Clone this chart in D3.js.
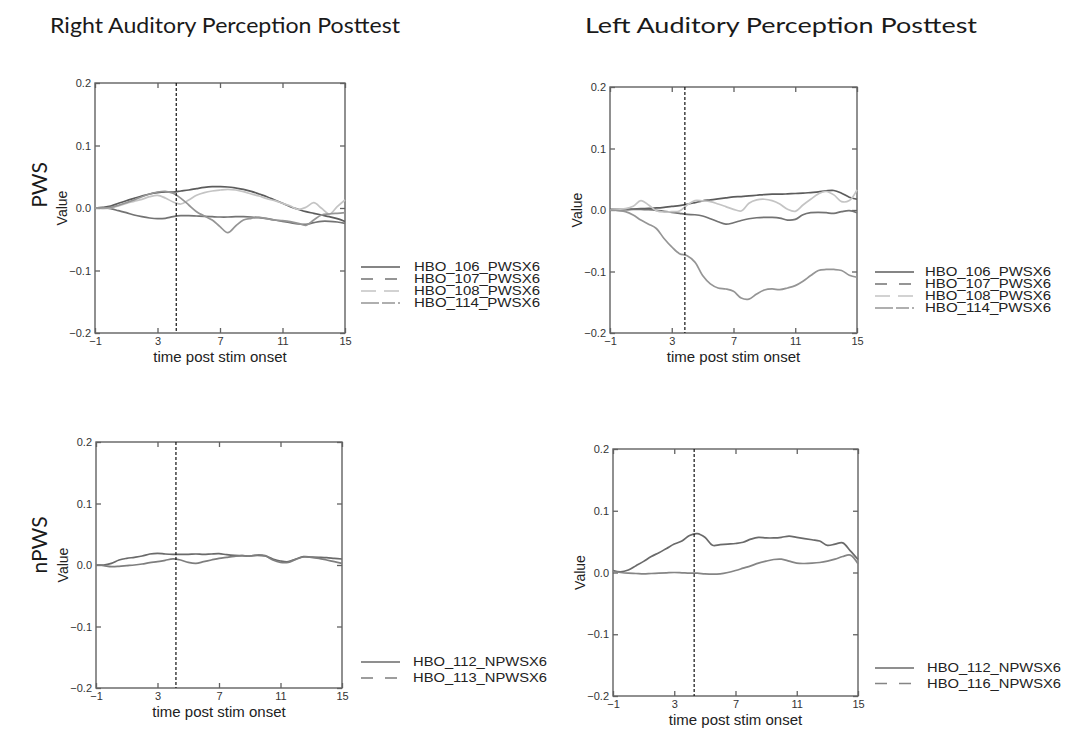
<!DOCTYPE html>
<html>
<head>
<meta charset="utf-8">
<script src="https://cdn.jsdelivr.net/npm/d3@7"></script>
<style>
  body { margin: 0; background: #fff; }
  svg { display: block; }
</style>
</head>
<body>
<svg id="chart" width="1065" height="732"></svg>
<script>
// ---- data ---------------------------------------------------------------
const timePoints = [-1, -0.5, 0, 0.5, 1, 1.5, 2, 2.5, 3, 3.5, 4, 4.5, 5, 5.5, 6, 6.5, 7,
  7.5, 8, 8.5, 9, 9.5, 10, 10.5, 11, 11.5, 12, 12.5, 13, 13.5, 14, 14.5, 15];
const xTickValues = [-1, 3, 7, 11, 15];
const yTickValues = [-0.2, -0.1, 0.0, 0.1, 0.2];
const columnTitles = ["Right Auditory Perception Posttest", "Left Auditory Perception Posttest"];
const rowTitles = ["PWS", "nPWS"];

const pwsSubjects = ["HBO_106_PWSX6", "HBO_107_PWSX6", "HBO_108_PWSX6", "HBO_114_PWSX6"];
const npwsRightSubjects = ["HBO_112_NPWSX6", "HBO_113_NPWSX6"];
const npwsLeftSubjects = ["HBO_112_NPWSX6", "HBO_116_NPWSX6"];

// stimulus marker (dashed vertical line) per panel
const markerTimes = [4.2, 3.85, 4.2, 4.3];

// Right hemisphere, PWS
const rightPws106 = [0, 0.001, 0.003, 0.0075, 0.0117, 0.0155, 0.0192, 0.0224, 0.0245, 0.0256, 0.0256,
  0.0272, 0.0288, 0.031, 0.033, 0.0341, 0.0341, 0.0336, 0.032, 0.0299, 0.0267, 0.0224, 0.0181, 0.0128,
  0.0075, 0.0021, -0.0021, -0.0059, -0.0085, -0.0112, -0.0139, -0.0171, -0.0215];
const rightPws107 = [0, 0, -0.0011, -0.0043, -0.0075, -0.0112, -0.0139, -0.016, -0.0171, -0.0165,
  -0.0139, -0.0123, -0.0123, -0.0128, -0.0133, -0.0139, -0.0144, -0.0144, -0.0139, -0.0139, -0.0144,
  -0.0155, -0.0171, -0.0192, -0.0213, -0.0235, -0.0256, -0.0261, -0.0235, -0.0213, -0.0213, -0.0224, -0.0245];
const rightPws108 = [0, -0.0011, 0, 0.0032, 0.0075, 0.0107, 0.0139, 0.0181, 0.0203, 0.016, 0.0096,
  0.0064, 0.0128, 0.0203, 0.0245, 0.0272, 0.0288, 0.0299, 0.0288, 0.0261, 0.0224, 0.0192, 0.0149,
  0.0117, 0.0075, 0.0032, -0.0021, 0.0011, 0.0085, -0.0005, -0.0096, 0.0021, 0.0128];
const rightPws114 = [0, 0, 0.0011, 0.0043, 0.0085, 0.0128, 0.0181, 0.0224, 0.0256, 0.0267, 0.0235,
  0.0155, 0.0048, -0.0059, -0.0128, -0.0192, -0.0299, -0.0395, -0.0288, -0.0192, -0.0165, -0.0149,
  -0.0171, -0.0192, -0.0203, -0.0219, -0.0245, -0.0277, -0.0192, -0.0112, -0.0096, -0.0085, -0.0075];

// Left hemisphere, PWS
const leftPws106 = [0.0011, 0.0011, 0.0011, 0.0016, 0.0022, 0.0027, 0.0033, 0.0044, 0.006, 0.0071,
  0.0093, 0.012, 0.0148, 0.0164, 0.018, 0.0197, 0.0213, 0.0219, 0.023, 0.024, 0.0251, 0.0257, 0.0257,
  0.0262, 0.0268, 0.0273, 0.0284, 0.0295, 0.0311, 0.0317, 0.0273, 0.0208, 0.0175];
const leftPws107 = [0, 0, 0.0005, 0.0011, 0.0011, 0.0005, -0.0005, -0.0022, -0.0038, -0.0055, -0.0071,
  -0.0077, -0.0098, -0.0142, -0.0191, -0.023, -0.0208, -0.017, -0.0142, -0.0126, -0.012, -0.012,
  -0.0131, -0.0164, -0.0153, -0.0077, -0.0044, -0.0038, -0.0044, -0.0055, -0.0027, -0.0011, -0.0044];
const leftPws108 = [0, 0.0011, 0.0022, 0.006, 0.0153, 0.0082, -0.0011, -0.0033, -0.0027, -0.0016,
  0.0082, 0.0153, 0.0148, 0.0137, 0.0098, 0.0055, 0.0011, -0.0016, 0.0109, 0.0164, 0.0175, 0.0153,
  0.0098, 0.0011, -0.0022, 0.0082, 0.0175, 0.0262, 0.0301, 0.0246, 0.0137, 0.0153, 0.0328];
const leftPws114 = [0, -0.0011, -0.0027, -0.0082, -0.0164, -0.023, -0.0301, -0.0464, -0.0601, -0.071,
  -0.0743, -0.0847, -0.1066, -0.1202, -0.1268, -0.1284, -0.1322, -0.1432, -0.1448, -0.1366, -0.1301,
  -0.1284, -0.1295, -0.1268, -0.123, -0.1158, -0.1066, -0.0984, -0.0967, -0.0967, -0.0984, -0.106, -0.1093];

// Right hemisphere, nPWS
const rightNpws112 = [0, 0, 0.0027, 0.0081, 0.0108, 0.0125, 0.0146, 0.0179, 0.019, 0.0179, 0.0173,
  0.0173, 0.0173, 0.0179, 0.0173, 0.0179, 0.0184, 0.0168, 0.0157, 0.0152, 0.0146, 0.0157, 0.0146,
  0.0098, 0.0065, 0.0054, 0.0098, 0.0136, 0.013, 0.0125, 0.0119, 0.0108, 0.0098];
const rightNpws113 = [0, -0.0011, -0.0027, -0.0022, -0.0011, 0, 0.0016, 0.0038, 0.0054, 0.0076, 0.0098,
  0.0081, 0.0043, 0.0027, 0.0054, 0.0081, 0.0108, 0.0125, 0.0141, 0.0152, 0.0146, 0.0163, 0.0152,
  0.0081, 0.0043, 0.0043, 0.0092, 0.013, 0.0125, 0.0108, 0.0081, 0.0054, 0.0027];

// Left hemisphere, nPWS
const leftNpws112 = [0.003, 0.001, 0.004, 0.011, 0.018, 0.026, 0.032, 0.039, 0.046, 0.051, 0.06,
  0.063, 0.057, 0.044, 0.045, 0.046, 0.047, 0.049, 0.054, 0.057, 0.056, 0.056, 0.057, 0.059, 0.057,
  0.055, 0.053, 0.051, 0.044, 0.046, 0.048, 0.035, 0.021];
const leftNpws116 = [0.0016, 0, -0.0011, -0.0016, -0.0022, -0.0016, -0.0011, -0.0005, 0, -0.0005,
  -0.0011, -0.0011, -0.0022, -0.0027, -0.0022, 0, 0.0032, 0.007, 0.0108, 0.0151, 0.0184, 0.0211,
  0.0216, 0.0184, 0.0151, 0.0146, 0.0151, 0.0162, 0.0184, 0.0216, 0.0259, 0.0281, 0.014];

// ---- styles per subject -------------------------------------------------
const seriesStyle = {
  "HBO_106_PWSX6":  { color: "#5c5c5c", dash: null },
  "HBO_107_PWSX6":  { color: "#737373", dash: "12,12" },
  "HBO_108_PWSX6":  { color: "#c4c4c4", dash: "15,8" },
  "HBO_114_PWSX6":  { color: "#959595", dash: "18,3,13,3" },
  "HBO_112_NPWSX6": { color: "#6a6a6a", dash: null },
  "HBO_113_NPWSX6": { color: "#7e7e7e", dash: "12,12" },
  "HBO_116_NPWSX6": { color: "#858585", dash: "12,12" }
};

// ---- layout of the four panels -----------------------------------------
const panels = [
  { box: [95, 83, 345, 333], names: pwsSubjects,
    values: [rightPws106, rightPws107, rightPws108, rightPws114],
    legend: { x: 361, y: 267, dy: 12, textX: 414 } },
  { box: [610, 87, 857, 333], names: pwsSubjects,
    values: [leftPws106, leftPws107, leftPws108, leftPws114],
    legend: { x: 875, y: 272, dy: 12, textX: 925 } },
  { box: [96, 442, 342, 688], names: npwsRightSubjects,
    values: [rightNpws112, rightNpws113],
    legend: { x: 361, y: 662, dy: 16, textX: 413 } },
  { box: [613, 449, 858, 696], names: npwsLeftSubjects,
    values: [leftNpws112, leftNpws116],
    legend: { x: 875, y: 668, dy: 15.5, textX: 927 } }
];

const svg = d3.select("#chart");
const sans = "'Liberation Sans', Arial, sans-serif";
const frameColor = "#626262";

panels.forEach((p, i) => {
  const [x0, y0, x1, y1] = p.box;
  const x = d3.scaleLinear().domain([-1, 15]).range([x0, x1]);
  const y = d3.scaleLinear().domain([-0.2, 0.2]).range([y1, y0]);
  const g = svg.append("g");

  // axes: inward ticks on all four sides, labels on bottom and left
  const styleAxis = sel => {
    sel.select(".domain").remove();
    sel.selectAll(".tick line").attr("stroke", frameColor).attr("stroke-width", 1.3);
    sel.selectAll(".tick text").attr("fill", "#333").attr("font-family", sans).attr("font-size", 11);
  };
  g.append("g").attr("transform", `translate(0,${y1})`)
    .call(d3.axisBottom(x).tickValues(xTickValues).tickSize(-5).tickPadding(4).tickFormat(d3.format("d")))
    .call(styleAxis);
  g.append("g").attr("transform", `translate(0,${y0})`)
    .call(d3.axisTop(x).tickValues(xTickValues).tickSize(-5).tickFormat(""))
    .call(styleAxis);
  g.append("g").attr("transform", `translate(${x0},0)`)
    .call(d3.axisLeft(y).tickValues(yTickValues).tickSize(-5).tickPadding(4).tickFormat(d3.format(".1f")))
    .call(styleAxis);
  g.append("g").attr("transform", `translate(${x1},0)`)
    .call(d3.axisRight(y).tickValues(yTickValues).tickSize(-5).tickFormat(""))
    .call(styleAxis);

  // frame
  g.append("rect").attr("x", x0).attr("y", y0).attr("width", x1 - x0).attr("height", y1 - y0)
    .attr("fill", "none").attr("stroke", frameColor).attr("stroke-width", 1.4);

  // axis titles
  g.append("text").attr("x", (x0 + x1) / 2).attr("y", y1 + 29)
    .attr("text-anchor", "middle").attr("font-family", sans).attr("font-size", 15)
    .attr("fill", "#222").text("time post stim onset");
  g.append("text")
    .attr("transform", `translate(${x0 - 28},${y(0)}) rotate(-90)`)
    .attr("text-anchor", "middle").attr("font-family", sans).attr("font-size", 14)
    .attr("fill", "#222").text("Value");

  // curves
  const line = d3.line().x((d, k) => x(timePoints[k])).y(d => y(d)).curve(d3.curveCatmullRom);
  p.values.forEach((vals, k) => {
    g.append("path").datum(vals).attr("d", line)
      .attr("fill", "none").attr("stroke", seriesStyle[p.names[k]].color)
      .attr("stroke-width", 1.7).attr("stroke-linejoin", "round");
  });

  // stimulus marker
  g.append("line").attr("x1", x(markerTimes[i])).attr("x2", x(markerTimes[i]))
    .attr("y1", y0).attr("y2", y1).attr("stroke", "#111").attr("stroke-width", 1.2)
    .attr("stroke-dasharray", "3,2");

  // legend
  p.names.forEach((name, k) => {
    const ly = p.legend.y + k * p.legend.dy;
    const st = seriesStyle[name];
    g.append("line").attr("x1", p.legend.x).attr("x2", p.legend.x + 39).attr("y1", ly).attr("y2", ly)
      .attr("stroke", st.color).attr("stroke-width", 1.5)
      .attr("stroke-dasharray", st.dash);
    g.append("text").attr("x", p.legend.textX).attr("y", ly).attr("dy", "0.36em")
      .attr("font-family", sans).attr("font-size", 12).attr("fill", "#222")
      .attr("textLength", name.length > 13 ? 134 : 126).attr("lengthAdjust", "spacingAndGlyphs")
      .text(name);
  });
});

// column titles
const titleFont = "Lato, 'Open Sans', sans-serif";
const titleSpecs = [{ x: 50, w: 350 }, { x: 585, w: 392 }];
columnTitles.forEach((t, i) => {
  svg.append("text").attr("x", titleSpecs[i].x).attr("y", 33)
    .attr("font-family", titleFont).attr("font-size", 22).attr("fill", "#1a1a1a")
    .attr("textLength", titleSpecs[i].w).attr("lengthAdjust", "spacingAndGlyphs").text(t);
});

// row titles
const rowCenters = [185, 545];
rowTitles.forEach((t, i) => {
  svg.append("text").attr("transform", `translate(47,${rowCenters[i]}) rotate(-90)`)
    .attr("text-anchor", "middle").attr("font-family", titleFont).attr("font-size", 21)
    .attr("fill", "#1a1a1a").text(t);
});
</script>
</body>
</html>
